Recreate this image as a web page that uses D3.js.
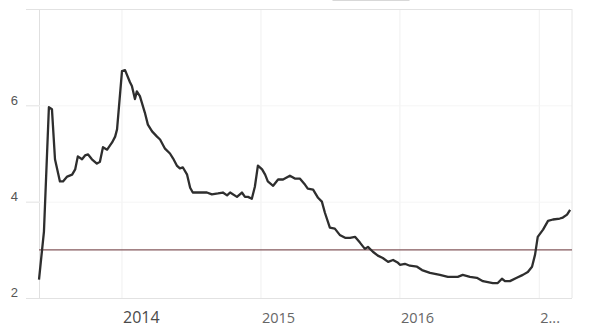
<!DOCTYPE html>
<html>
<head>
<meta charset="utf-8">
<script src="https://cdn.jsdelivr.net/npm/d3@7"></script>
<style>
  body { margin: 0; background: #fff; }
  svg { display: block; font-family: "Open Sans", "Noto Sans", sans-serif; }
</style>
</head>
<body>
<div id="chart"></div>
<script>
// chart size
var width = 595, height = 333;
var margin = { top: 9, right: 23, bottom: 35, left: 39 };

// data
const dates = ["2013-05-28","2013-06-10","2013-06-23","2013-07-01","2013-07-09","2013-07-22","2013-07-30",
  "2013-08-10","2013-08-23","2013-08-31","2013-09-07","2013-09-18","2013-09-26","2013-10-04","2013-10-14",
  "2013-10-27","2013-11-04","2013-11-12","2013-11-23","2013-12-06","2013-12-14","2013-12-19","2014-01-01",
  "2014-01-09","2014-01-22","2014-01-27","2014-02-04","2014-02-09","2014-02-17","2014-03-02","2014-03-10",
  "2014-03-21","2014-04-03","2014-04-11","2014-04-24","2014-05-07","2014-05-15","2014-05-25","2014-06-02",
  "2014-06-10","2014-06-21","2014-06-29","2014-07-06","2014-08-12","2014-08-25","2014-09-10","2014-09-23",
  "2014-10-04","2014-10-12","2014-10-30","2014-11-12","2014-11-20","2014-11-28","2014-12-08","2014-12-16",
  "2014-12-24","2015-01-04","2015-01-12","2015-01-19","2015-02-02","2015-02-15","2015-02-28","2015-03-18",
  "2015-03-31","2015-04-13","2015-04-27","2015-05-04","2015-05-18","2015-05-31","2015-06-10","2015-06-18",
  "2015-07-01","2015-07-14","2015-07-27","2015-08-10","2015-08-23","2015-09-05","2015-09-18","2015-10-01",
  "2015-10-09","2015-10-22","2015-11-04","2015-11-17","2015-12-01","2015-12-14","2015-12-27","2016-01-01",
  "2016-01-14","2016-01-27","2016-02-15","2016-02-28","2016-03-20","2016-04-15","2016-05-06","2016-06-01",
  "2016-06-14","2016-07-03","2016-07-21","2016-08-06","2016-09-01","2016-09-14","2016-09-25","2016-10-03",
  "2016-10-16","2016-11-03","2016-11-19","2016-12-02","2016-12-13","2016-12-21","2016-12-28","2017-01-11",
  "2017-01-24","2017-02-06","2017-02-24","2017-03-04","2017-03-15","2017-03-23"];
const rates = [2.38,3.38,5.96,5.92,4.88,4.42,4.42,
  4.52,4.56,4.67,4.94,4.88,4.96,4.98,4.88,
  4.79,4.83,5.13,5.08,5.23,5.35,5.5,6.71,
  6.73,6.48,6.40,6.13,6.29,6.19,5.85,5.60,
  5.46,5.35,5.29,5.10,5.0,4.90,4.75,4.69,
  4.71,4.56,4.29,4.19,4.19,4.15,4.17,4.19,
  4.13,4.19,4.10,4.19,4.10,4.10,4.06,4.31,
  4.75,4.67,4.56,4.42,4.33,4.46,4.46,4.54,
  4.48,4.48,4.35,4.27,4.25,4.08,4.0,3.77,
  3.46,3.44,3.31,3.25,3.25,3.27,3.15,3.02,
  3.06,2.96,2.88,2.83,2.75,2.79,2.73,2.69,
  2.71,2.67,2.65,2.58,2.52,2.48,2.44,2.44,
  2.48,2.44,2.42,2.35,2.31,2.31,2.40,2.35,
  2.35,2.42,2.48,2.54,2.65,2.90,3.27,3.42,
  3.60,3.63,3.65,3.67,3.73,3.83];
const refValue = 3.0;
const yTicks = [2, 4, 6, 8];
const yearTicks = ["2014-01-01", "2015-01-01", "2016-01-01", "2017-01-01"];
const yearLabels = ["2014", "2015", "2016", "2..."];
const xDomain = ["2013-05-28", "2017-03-28"];

const parse = d3.timeParse("%Y-%m-%d");
const data = dates.map((d, i) => ({ date: parse(d), value: rates[i] }));

const svg = d3.select("#chart")
  .append("svg")
    .attr("width", width)
    .attr("height", height);

const x = d3.scaleTime()
  .domain(xDomain.map(parse))
  .range([margin.left, width - margin.right]);

const y = d3.scaleLinear()
  .domain([2, 8])
  .range([height - margin.bottom, margin.top]);

// little cropped box at the top
svg.append("rect")
  .attr("x", 333).attr("y", -6)
  .attr("width", 76).attr("height", 6.5)
  .attr("fill", "#fff").attr("stroke", "#d8d8d8");

// vertical year gridlines
svg.append("g")
  .selectAll("line")
  .data(yearTicks.map(parse))
  .join("line")
    .attr("x1", d => x(d)).attr("x2", d => x(d))
    .attr("y1", margin.top).attr("y2", height - margin.bottom)
    .attr("stroke", "#f0f0f0");

// y axis with gridlines
svg.append("g")
  .attr("transform", `translate(${margin.left},0)`)
  .call(d3.axisLeft(y).tickValues(yTicks).tickSize(13).tickFormat(d => d === 8 ? "" : d))
  .call(g => g.select(".domain").attr("stroke", "#e0e0e0"))
  .call(g => g.selectAll(".tick line").attr("stroke", "#e2e2e2"))
  .call(g => g.selectAll(".tick").append("line")
      .attr("x1", 0).attr("x2", width - margin.left - margin.right)
      .attr("stroke", d => (d === 2 || d === 8) ? "#e2e2e2" : "#f5f5f5"))
  .call(g => g.selectAll(".tick text")
      .attr("x", -21).attr("dy", "-0.1em")
      .attr("fill", "#555").style("font-size", "13px"));

// right border
svg.append("line")
  .attr("x1", width - margin.right).attr("x2", width - margin.right)
  .attr("y1", margin.top).attr("y2", height - margin.bottom)
  .attr("stroke", "#e6e6e6");

// x axis labels
svg.append("g")
  .selectAll("text")
  .data(yearTicks.map(parse))
  .join("text")
    .attr("x", d => x(d) + 1)
    .attr("y", 323)
    .attr("fill", (d, i) => i === 0 ? "#4a4a4a" : "#666")
    .style("font-size", (d, i) => i === 0 ? "16px" : "14.5px")
    .text((d, i) => yearLabels[i]);

// reference line
svg.append("line")
  .attr("x1", margin.left).attr("x2", width - margin.right)
  .attr("y1", y(refValue)).attr("y2", y(refValue))
  .attr("stroke", "#84595c").attr("stroke-width", 1.3);

// the series
svg.append("path")
  .datum(data)
  .attr("fill", "none")
  .attr("stroke", "#2e2e2e")
  .attr("stroke-width", 2.3)
  .attr("stroke-linejoin", "round")
  .attr("d", d3.line().x(d => x(d.date)).y(d => y(d.value)));
</script>
</body>
</html>
